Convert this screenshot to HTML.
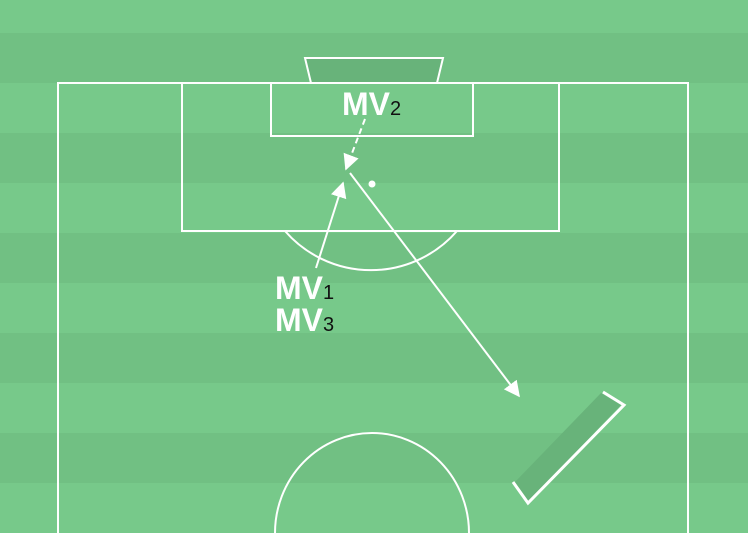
<!DOCTYPE html>
<html><head><meta charset="utf-8"><style>
html,body{margin:0;padding:0;width:748px;height:533px;overflow:hidden;background:#77c98a}
svg{display:block}
text{font-family:"Liberation Sans",sans-serif}
</style></head><body>
<svg width="748" height="533" viewBox="0 0 748 533">
<defs><marker id="ah" viewBox="0 0 10 10" refX="9" refY="5" markerWidth="8" markerHeight="8" orient="auto-start-reverse"><path d="M0,0 L10,5 L0,10 z" fill="#fff"/></marker></defs>
<g>
<rect x="0" y="33" width="748" height="50" fill="#71c083"/>
<rect x="0" y="133" width="748" height="50" fill="#71c083"/>
<rect x="0" y="233" width="748" height="50" fill="#71c083"/>
<rect x="0" y="333" width="748" height="50" fill="#71c083"/>
<rect x="0" y="433" width="748" height="50" fill="#71c083"/>
</g>
<g fill="none" stroke="#fff" stroke-width="2">
<polygon points="305,58 443,58 437,83 311,83" fill="#68b37a"/>
<path d="M58,533 L58,83 L688,83 L688,533"/>
<rect x="182" y="83" width="377" height="148"/>
<rect x="271" y="83" width="202" height="53"/>
<path d="M285,231 A114,114 0 0 0 457,231"/>
<path d="M275,533 A97,100 0 0 1 469,533"/>
</g>
<circle cx="372" cy="184" r="3.5" fill="#fff"/>
<polygon points="515,482 601,393 621,405 528,502" fill="#68b37a"/>
<polyline points="513,482 528,503 624,405 603,392" fill="none" stroke="#fff" stroke-width="3"/>
<line x1="365" y1="119" x2="346" y2="169" stroke="#fff" stroke-width="2" stroke-dasharray="6,4" marker-end="url(#ah)"/>
<line x1="316" y1="268" x2="343" y2="183" stroke="#fff" stroke-width="2" marker-end="url(#ah)"/>
<line x1="350" y1="173" x2="519" y2="396" stroke="#fff" stroke-width="2" marker-end="url(#ah)"/>
<text x="342" y="115"><tspan font-size="32" font-weight="bold" fill="#fff">MV</tspan><tspan font-size="20" fill="#111">2</tspan></text>
<text x="275" y="299"><tspan font-size="32" font-weight="bold" fill="#fff">MV</tspan><tspan font-size="20" fill="#111">1</tspan></text>
<text x="275" y="331"><tspan font-size="32" font-weight="bold" fill="#fff">MV</tspan><tspan font-size="20" fill="#111">3</tspan></text>
</svg>
</body></html>
